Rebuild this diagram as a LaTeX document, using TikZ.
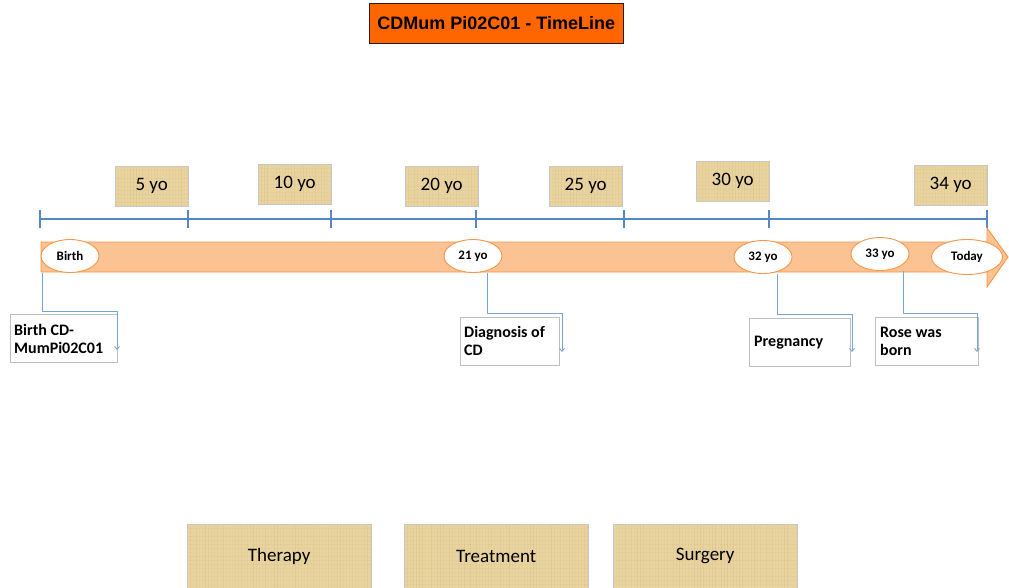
\documentclass[tikz,border=0pt]{standalone}
\usepackage{fontspec}
\setmainfont{Carlito}
\newfontfamily\arialfont{Liberation Sans}
\usetikzlibrary{shapes.geometric,arrows.meta}
\definecolor{axisblue}{RGB}{84,135,196}
\definecolor{callblue}{RGB}{120,163,214}
\definecolor{barfill}{RGB}{251,195,148}
\definecolor{barline}{RGB}{247,150,70}
\definecolor{papyrus}{RGB}{233,212,160}
\definecolor{papyrusdark}{RGB}{190,160,100}
\definecolor{titleorange}{RGB}{255,102,0}
\pgfmathsetseed{7}
\tikzset{
  papyrustex/.style={fill=papyrus,
    path picture={
      \foreach \i in {0,3,...,190}
        \pgfmathsetmacro{\op}{0.04+0.16*rnd}
        \draw[papyrusdark, line width=0.7pt, opacity=\op]
          ([xshift=\i pt]path picture bounding box.south west) -- ([xshift=\i pt]path picture bounding box.north west);
      \foreach \j in {0,4,...,70}
        \pgfmathsetmacro{\op}{0.03+0.10*rnd}
        \draw[papyrusdark, line width=0.6pt, opacity=\op]
          ([yshift=\j pt]path picture bounding box.south west) -- ([yshift=\j pt]path picture bounding box.south east);
    }},
  yearbox/.style={draw=black!22, papyrustex, minimum width=73pt, minimum height=40pt, inner sep=0pt, anchor=north west, font=\fontsize{19}{21}\selectfont},
  catbox/.style={draw=black!22, papyrustex, minimum width=184pt, minimum height=64pt, inner sep=0pt, anchor=north west, font=\fontsize{19}{21}\selectfont},
  agebubble/.style={ellipse, draw=barline, line width=0.9pt, fill=white, minimum width=58pt, minimum height=33pt, inner sep=0pt, font=\bfseries\fontsize{13}{15}\selectfont},
  eventbox/.style={draw=black!25, fill=white, anchor=north west, inner sep=0pt},
  eventtext/.style={anchor=west, align=left, font=\bfseries\fontsize{16}{18}\selectfont, inner sep=0pt},
  callout/.style={draw=callblue, line width=0.8pt, -{Straight Barb[length=3pt,width=5pt]}},
  axisline/.style={draw=axisblue, line width=1.3pt}
}
\begin{document}
\begin{tikzpicture}[x=1pt,y=-1pt]
\useasboundingbox (0,0) rectangle (1009,587);

% title
\node[draw=black!80!orange, fill=titleorange, minimum width=254pt, minimum height=40pt, inner sep=0pt, anchor=north west,
      font=\arialfont\bfseries\fontsize{18}{20}\selectfont] (title) at (369,3) {CDMum Pi02C01 - TimeLine};

% axis
\coordinate (t0) at (40,219);
\coordinate (t1) at (188,219);
\coordinate (t2) at (331,219);
\coordinate (t3) at (476,219);
\coordinate (t4) at (624,219);
\coordinate (t5) at (769,219);
\coordinate (t6) at (987,219);
\draw[axisline] (t0) -- (t6);
\foreach \t in {t0,t1,t2,t3,t4,t5,t6}
  \draw[axisline] ([yshift=9pt]\t) -- ([yshift=-9pt]\t);

% year boxes
\node[yearbox] (y5)  at (115,166) {5 yo};
\node[yearbox] (y10) at (258,164) {10 yo};
\node[yearbox] (y20) at (405,166) {20 yo};
\node[yearbox] (y25) at (549,166) {25 yo};
\node[yearbox] (y30) at (696,161) {30 yo};
\node[yearbox] (y34) at (914,165) {34 yo};

% callout geometry
\coordinate (e1) at (42,311);  \coordinate (a1) at (117,350);
\coordinate (e2) at (487,313); \coordinate (a2) at (562,352);
\coordinate (e3) at (777,314); \coordinate (a3) at (852,352);
\coordinate (e4) at (903,313); \coordinate (a4) at (977,352);

% event boxes
\node[eventbox, minimum width=107pt, minimum height=48pt] (ev1) at (10,314) {};
\node[eventtext] (ev1t) at (14,339) {Birth CD-\\MumPi02C01};
\node[eventbox, minimum width=99pt, minimum height=48pt] (ev2) at (460,317) {};
\node[eventtext] (ev2t) at (464,341) {Diagnosis of\\CD};
\node[eventbox, minimum width=101pt, minimum height=48pt] (ev3) at (749,318) {};
\node[eventtext] (ev3t) at (754,343) {Pregnancy};
\node[eventbox, minimum width=103pt, minimum height=48pt] (ev4) at (875,317) {};
\node[eventtext] (ev4t) at (880,341) {Rose was\\born};

% bar arrow
\filldraw[fill=barfill, draw=barline, line width=0.9pt, line join=miter]
  (41,242) -- (987,242) -- (987,228) -- (1008,257) -- (987,287) -- (987,272) -- (41,272) -- cycle;

% age bubbles
\node[agebubble] (birth) at (70,256) {Birth};
\node[agebubble] (a21) at (473,256) {21 yo};
\node[agebubble] (a32) at (763,257) {32 yo};
\node[agebubble] (a33) at (880,254) {33 yo};
\node[agebubble, minimum width=71pt, minimum height=35pt] (today) at (967,257) {Today};

% callouts (from bar bottom below each bubble)
\draw[callout] (e1 |- birth.south) -- (e1) -| (a1);
\draw[callout] (e2 |- a21.south) -- (e2) -| (a2);
\draw[callout] (e3 |- a32.south) -- (e3) -| (a3);
\draw[callout] (e4 |- a33.south) -- (e4) -| (a4);

% category boxes
\node[catbox] (therapy) at (187,524) {Therapy};
\node[catbox] (treatment) at (404,524) {Treatment};
\node[catbox] (surgery) at (613,524) {Surgery};
\end{tikzpicture}
\end{document}
